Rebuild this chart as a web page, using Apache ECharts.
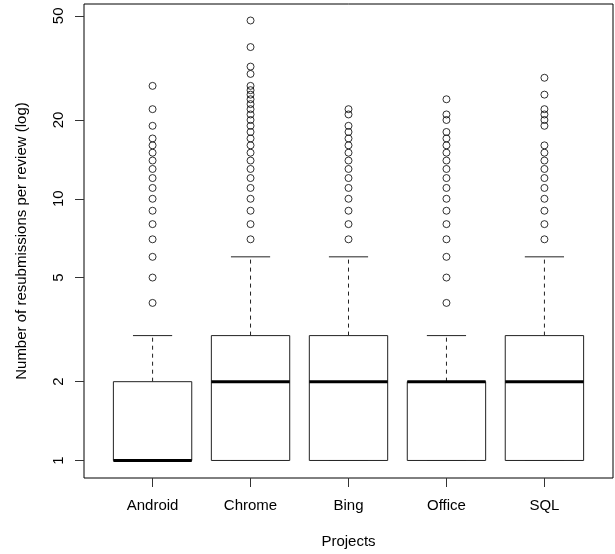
<!DOCTYPE html>
<html>
<head>
<meta charset="utf-8">
<script src="https://cdn.jsdelivr.net/npm/echarts@6/dist/echarts.min.js"></script>
<style>
  html, body { margin: 0; padding: 0; background: #fff; }
  #chart { width: 615px; height: 554px; }
</style>
</head>
<body>
<div id="chart"></div>
<script>
// ---- data ----
const categories = ['Android', 'Chrome', 'Bing', 'Office', 'SQL'];
const lowerWhisker = [1, 1, 1, 1, 1];
const q1Values = [1, 1, 1, 1, 1];
const medianValues = [1, 2, 2, 2, 2];
const q3Values = [2, 3, 3, 2, 3];
const upperWhisker = [3, 6, 6, 3, 6];
const outliersAndroid = [4, 5, 6, 7, 8, 9, 10, 11, 12, 13, 14, 15, 16, 17, 19, 22, 27];
const outliersChrome = [7, 8, 9, 10, 11, 12, 13, 14, 15, 16, 17, 18, 19, 20, 21, 22, 23, 24, 25, 26, 27, 30, 32, 38, 48];
const outliersBing = [7, 8, 9, 10, 11, 12, 13, 14, 15, 16, 17, 18, 19, 21, 22];
const outliersOffice = [4, 5, 6, 7, 8, 9, 10, 11, 12, 13, 14, 15, 16, 17, 18, 20, 21, 24];
const outliersSQL = [7, 8, 9, 10, 11, 12, 13, 14, 15, 16, 19, 20, 21, 22, 25, 29];
const yTickValues = [1, 2, 5, 10, 20, 50];
const xTickValues = [1, 2, 3, 4, 5];

const outlierLists = [outliersAndroid, outliersChrome, outliersBing, outliersOffice, outliersSQL];

// ---- build series data ----
const boxData = categories.map((c, i) => [i + 1, lowerWhisker[i], q1Values[i], medianValues[i], q3Values[i], upperWhisker[i]]);
const outlierData = [];
outlierLists.forEach((list, i) => list.forEach(v => outlierData.push([i + 1, v])));

const FONT = "'Liberation Sans', Arial, Helvetica, sans-serif";
const LINE = '#222';

function renderBox(params, api) {
  const x = api.value(0);
  const lw = api.value(1), q1 = api.value(2), med = api.value(3), q3 = api.value(4), uw = api.value(5);
  const half = 0.4, capHalf = 0.2;
  const pL = api.coord([x - half, q1]);
  const pR = api.coord([x + half, q3]);
  const pC = api.coord([x, q1]);
  const yQ1 = pL[1], yQ3 = pR[1];
  const yMed = api.coord([x, med])[1];
  const yLw = api.coord([x, lw])[1];
  const yUw = api.coord([x, uw])[1];
  const cx = pC[0];
  const capL = api.coord([x - capHalf, q1])[0];
  const capR = api.coord([x + capHalf, q1])[0];
  const children = [];
  const dashed = { stroke: LINE, lineWidth: 1, lineDash: [4, 4], fill: null };
  if (uw > q3) {
    children.push({ type: 'line', shape: { x1: cx, y1: yQ3, x2: cx, y2: yUw }, style: dashed });
  }
  if (lw < q1) {
    children.push({ type: 'line', shape: { x1: cx, y1: yQ1, x2: cx, y2: yLw }, style: dashed });
  }
  children.push({ type: 'line', shape: { x1: capL, y1: yUw, x2: capR, y2: yUw }, style: { stroke: LINE, lineWidth: 1 } });
  children.push({ type: 'line', shape: { x1: capL, y1: yLw, x2: capR, y2: yLw }, style: { stroke: LINE, lineWidth: 1 } });
  children.push({
    type: 'rect',
    shape: { x: pL[0], y: yQ3, width: pR[0] - pL[0], height: yQ1 - yQ3 },
    style: { fill: '#fff', stroke: LINE, lineWidth: 1 }
  });
  children.push({ type: 'line', shape: { x1: pL[0], y1: yMed, x2: pR[0], y2: yMed }, style: { stroke: '#000', lineWidth: 3 } });
  return { type: 'group', children: children };
}

const chart = echarts.init(document.getElementById('chart'), null, { renderer: 'canvas' });
chart.setOption({
  animation: false,
  backgroundColor: '#fff',
  textStyle: { fontFamily: FONT },
  grid: { left: 84, right: 2, top: 4, bottom: 76, show: true, borderColor: '#000', borderWidth: 1, backgroundColor: 'transparent' },
  xAxis: {
    type: 'value',
    min: 0.3,
    max: 5.7,
    name: 'Projects',
    nameLocation: 'middle',
    nameGap: 56,
    nameTextStyle: { fontFamily: FONT, fontSize: 15, color: '#000' },
    axisLine: { show: false },
    splitLine: { show: false },
    axisTick: { show: true, length: 9, customValues: xTickValues, lineStyle: { color: '#333' } },
    axisLabel: {
      customValues: xTickValues,
      margin: 20,
      fontFamily: FONT, fontSize: 15, color: '#000',
      formatter: v => categories[Math.round(v) - 1] || ''
    }
  },
  yAxis: {
    type: 'log',
    logBase: 10,
    min: 0.857,
    max: 55.5,
    name: 'Number of resubmissions per review (log)',
    nameLocation: 'middle',
    nameGap: 55,
    nameTextStyle: { fontFamily: FONT, fontSize: 15, color: '#000' },
    axisLine: { show: false },
    splitLine: { show: false },
    axisTick: { show: true, length: 9, customValues: yTickValues, lineStyle: { color: '#333' } },
    axisLabel: {
      customValues: yTickValues,
      rotate: 90,
      margin: 18,
      fontFamily: FONT, fontSize: 15, color: '#000',
      formatter: v => String(Math.round(v))
    }
  },
  series: [
    {
      type: 'custom',
      renderItem: renderBox,
      data: boxData,
      encode: { x: 0, y: [1, 2, 3, 4, 5] },
      silent: true,
      z: 2
    },
    {
      type: 'scatter',
      data: outlierData,
      symbol: 'circle',
      symbolSize: 7,
      itemStyle: { color: 'rgba(0,0,0,0)', borderColor: '#000', borderWidth: 1 },
      silent: true,
      z: 3
    }
  ]
});
</script>
</body>
</html>
